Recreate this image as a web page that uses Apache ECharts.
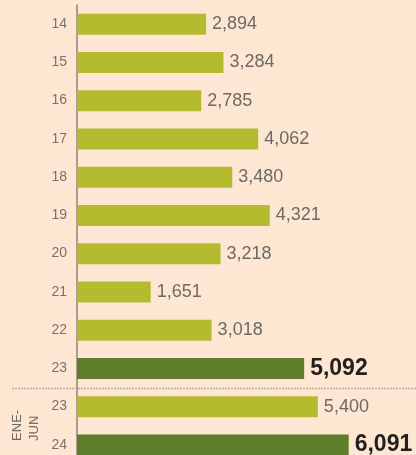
<!DOCTYPE html>
<html>
<head>
    <meta charset="utf-8">
    <title>chart</title>
    <script src="https://cdn.jsdelivr.net/npm/echarts@6/dist/echarts.min.js"></script>
    <style>
        html, body { margin: 0; padding: 0; background: #fde6d2; overflow: hidden; }
    </style>
</head>
<body>
<!-- taller than the window: the last bar is cut by the bottom edge -->
<div id="main" style="width:416px;height:464px;"></div>
<script type="text/javascript">
    // data
    var years = ['14', '15', '16', '17', '18', '19', '20', '21', '22', '23', '23', '24'];
    var values = [2894, 3284, 2785, 4062, 3480, 4321, 3218, 1651, 3018, 5092, 5400, 6091];
    var strongIdx = [9, 11];       // full-year 23 and ene-jun 24
    var groupLabel = 'ENE-\nJUN';  // label for last two bars

    var LIGHT = '#b4bb2f', DARK = '#5f7e2b';

    function fmt(v) {
        return String(v).replace(/\B(?=(\d{3})+(?!\d))/g, ',');
    }

    var barData = values.map(function (v, i) {
        var strong = strongIdx.indexOf(i) >= 0;
        return {
            value: v,
            itemStyle: {color: strong ? DARK : LIGHT},
            label: strong ? {fontWeight: 'bold', fontSize: 23, color: '#231f1c'} : {}
        };
    });

    var myChart = echarts.init(document.getElementById('main'));
    myChart.setOption({
        backgroundColor: '#fde6d2',
        animation: false,
        grid: {left: 77, top: 5, right: 0, bottom: 0, containLabel: false},
        xAxis: {
            type: 'value', min: 0, max: 7600,
            show: false
        },
        yAxis: {
            type: 'category',
            data: years,
            inverse: true,
            axisLine: {show: true, lineStyle: {color: '#8d857b', width: 1.5}},
            axisTick: {show: false},
            axisLabel: {
                margin: 10, fontSize: 14, color: '#7a736c',
                fontFamily: 'Liberation Sans'
            },
            splitLine: {show: false}
        },
        series: [{
            type: 'bar',
            data: barData,
            barWidth: 21,
            label: {
                show: true, position: 'right', distance: 6,
                fontFamily: 'Liberation Sans', fontSize: 18, color: '#6d6a66',
                formatter: function (p) { return fmt(p.value); }
            }
        }]
    });

    // dashed separator between the annual bars and the ene-jun bars
    var y1 = myChart.convertToPixel({yAxisIndex: 0}, 9);
    var y2 = myChart.convertToPixel({yAxisIndex: 0}, 10);
    var sepY = Math.round((y1 + y2) / 2) + 0.5;
    var lastY = myChart.convertToPixel({yAxisIndex: 0}, 11);

    myChart.setOption({
        graphic: [{
            type: 'line',
            shape: {x1: 12, y1: sepY, x2: 416, y2: sepY},
            style: {stroke: '#b9afa6', lineWidth: 1.5, lineDash: [2, 1]},
            z: 10
        }, {
            type: 'text',
            x: 26, y: lastY - 4,
            rotation: Math.PI / 2,
            style: {
                text: groupLabel,
                fill: '#6f6a65',
                font: '13px "Liberation Sans"',
                textAlign: 'left',
                textVerticalAlign: 'middle',
                lineHeight: 17
            }
        }]
    });
</script>
</body>
</html>
